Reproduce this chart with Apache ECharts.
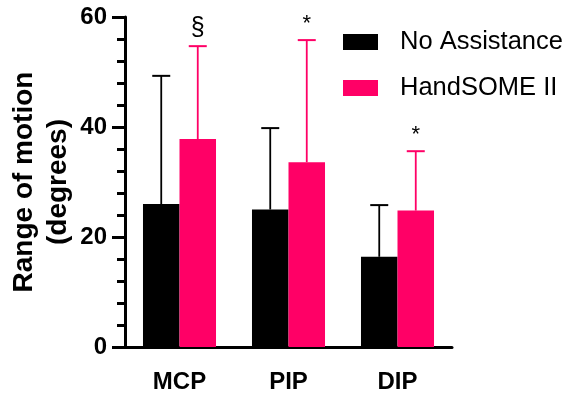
<!DOCTYPE html>
<html><head><meta charset="utf-8">
<script src="https://cdn.jsdelivr.net/npm/echarts@6/dist/echarts.min.js"></script>
<style>html,body{margin:0;padding:0;background:#fff}#c{width:569px;height:396px}</style>
</head><body><div id="c"></div>
<script>
var categories = ['MCP', 'PIP', 'DIP'];
var seriesNames = ['No Assistance', 'HandSOME II'];
var noAssist = [26.0, 25.0, 16.4];
var noAssistErrTop = [49.3, 39.8, 25.8];
var handsome = [37.8, 33.6, 24.8];
var handsomeErrTop = [54.7, 55.8, 35.6];
var annotations = ['§', '*', '*'];
var yTitleLines = ['Range of motion', '(degrees)'];
var colors = ['#000000', '#FF0066'];

var chart = echarts.init(document.getElementById('c'), null, {renderer: 'canvas'});
var FONT = 'Liberation Sans, Arial, sans-serif';
var CATGAP = 0.33;

function errSeries(sIdx, tops, vals, color, notes) {
  var data = categories.map(function (c, i) { return [i, vals[i], tops[i], notes ? notes[i] : '']; });
  return {
    type: 'custom', name: seriesNames[sIdx] + ' err', z: 5, silent: true,
    data: data, encode: {x: 0, y: [1, 2]},
    renderItem: function (params, api) {
      var band = api.size([1, 0])[0];
      var bw = band * (1 - CATGAP) / 2;
      var off = sIdx === 0 ? -bw / 2 : bw / 2;
      var p0 = api.coord([api.value(0), api.value(1)]);
      var p1 = api.coord([api.value(0), api.value(2)]);
      var x = p0[0] + off;
      var cap = 9;
      var children = [
        {type: 'line', shape: {x1: x, y1: p0[1], x2: x, y2: p1[1]}, style: {stroke: color, lineWidth: 1.8}},
        {type: 'line', shape: {x1: x - cap, y1: p1[1], x2: x + cap, y2: p1[1]}, style: {stroke: color, lineWidth: 2}}
      ];
      var note = data[params.dataIndex][3];
      if (note) {
        var isSec = note === '§';
        children.push({type: 'text', x: x, y: p1[1] - (isSec ? 6 : 5),
          style: {text: note, fill: '#000', fontFamily: FONT, fontSize: isSec ? 25 : 22,
            align: 'center', verticalAlign: 'bottom'}});
      }
      return {type: 'group', children: children};
    }
  };
}

chart.setOption({
  animation: false,
  backgroundColor: '#fff',
  grid: {left: 125, right: 117, top: 17, bottom: 49, containLabel: false, outerBoundsMode: 'none'},
  legend: {
    orient: 'vertical', left: 343, top: 29, padding: 0, itemWidth: 35, itemHeight: 16, itemGap: 20,
    icon: 'rect',
    data: seriesNames,
    textStyle: {fontFamily: FONT, fontSize: 25.5, color: '#000', padding: [0, 0, 0, 17]}
  },
  graphic: [
    {type: 'text', x: 24, y: 182, rotation: Math.PI / 2,
      style: {text: yTitleLines[0], fontFamily: FONT, fontSize: 28, fontWeight: 'bold', fill: '#000',
        align: 'center', verticalAlign: 'middle'}},
    {type: 'text', x: 58, y: 182, rotation: Math.PI / 2,
      style: {text: yTitleLines[1], fontFamily: FONT, fontSize: 28, fontWeight: 'bold', fill: '#000',
        align: 'center', verticalAlign: 'middle'}}
  ],
  xAxis: {
    type: 'category', data: categories,
    axisLine: {lineStyle: {color: '#000', width: 3}},
    axisTick: {alignWithLabel: true, length: 13, lineStyle: {width: 3, color: '#000'}},
    axisLabel: {fontFamily: FONT, fontSize: 24, fontWeight: 'bold', color: '#000', margin: 23}
  },
  yAxis: {
    type: 'value', min: 0, max: 60, interval: 20,
    axisLine: {show: true, lineStyle: {color: '#000', width: 3}},
    axisTick: {show: true, length: 13, lineStyle: {width: 3, color: '#000'}},
    minorTick: {show: true, splitNumber: 5, length: 8, lineStyle: {width: 3, color: '#000'}},
    splitLine: {show: false},
    axisLabel: {fontFamily: FONT, fontSize: 24, fontWeight: 'bold', color: '#000', margin: 18}
  },
  series: [
    {type: 'bar', name: seriesNames[0], data: noAssist, barGap: 0, barCategoryGap: '33%',
      itemStyle: {color: colors[0]}, z: 3},
    {type: 'bar', name: seriesNames[1], data: handsome, barGap: 0, barCategoryGap: '33%',
      itemStyle: {color: colors[1]}, z: 3},
    errSeries(0, noAssistErrTop, noAssist, colors[0], null),
    errSeries(1, handsomeErrTop, handsome, colors[1], annotations)
  ]
});
</script></body></html>
